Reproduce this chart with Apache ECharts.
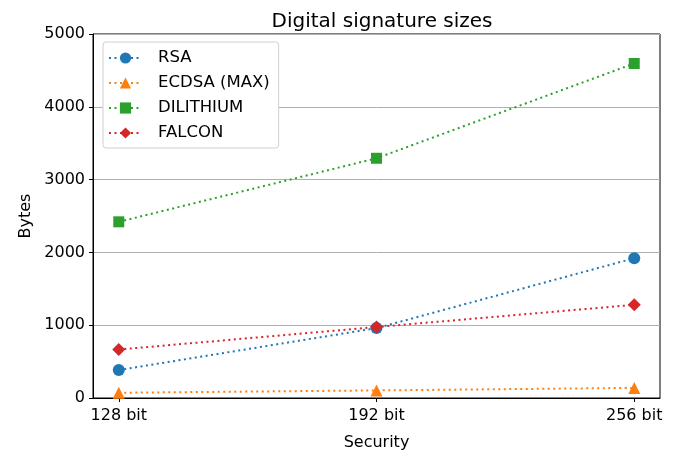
<!DOCTYPE html>
<html>
<head>
<meta charset="utf-8">
<script src="https://cdn.jsdelivr.net/npm/echarts@6/dist/echarts.min.js"></script>
<style>
html,body{margin:0;padding:0;background:#fff;}
#chart{width:678px;height:456px;}
</style>
</head>
<body>
<div id="chart"></div>
<script>
// categories on the x axis
var securityLevels = ['128 bit', '192 bit', '256 bit'];
// signature sizes in bytes
var rsaBytes = [384, 960, 1920];
var ecdsaBytes = [72, 104, 139];
var dilithiumBytes = [2420, 3293, 4595];
var falconBytes = [666, 975, 1280];

var fontFam = 'DejaVu Sans';

function toPoints(arr){
    return arr.map(function(v, i){ return [i, v]; });
}

function makeSeries(name, data, color, symbol, size){
    return {
        name: name,
        type: 'line',
        data: toPoints(data),
        symbol: symbol,
        symbolSize: size,
        showSymbol: true,
        itemStyle: {color: color},
        lineStyle: {color: color, width: 2, type: [2, 3.5]},
        emphasis: {disabled: true},
        animation: false
    };
}

var chart = echarts.init(document.getElementById('chart'), null, {renderer: 'canvas'});

var option = {
    backgroundColor: '#fff',
    animation: false,
    color: ['#1f77b4', '#ff7f0e', '#2ca02c', '#d62728'],
    title: {
        text: 'Digital signature sizes',
        left: 377,
        top: 7,
        textAlign: 'center',
        textStyle: {fontFamily: fontFam, fontSize: 20, fontWeight: 'normal', color: '#000'}
    },
    grid: {
        left: 93,
        right: 18,
        top: 34,
        bottom: 54,
        show: true,
        borderColor: '#000',
        borderWidth: 1,
        containLabel: false
    },
    legend: {
        left: 103,
        top: 42,
        orient: 'vertical',
        itemWidth: 33,
        itemHeight: 14,
        itemGap: 7,
        padding: [7, 9, 6, 5],
        backgroundColor: '#fff',
        borderColor: '#d0d0d0',
        borderWidth: 1,
        borderRadius: 3,
        textStyle: {fontFamily: fontFam, fontSize: 16.5, lineHeight: 18, color: '#000', padding: [0, 0, 0, 11]},
        data: ['RSA', 'ECDSA (MAX)', 'DILITHIUM', 'FALCON']
    },
    xAxis: {
        type: 'value',
        min: -0.1,
        max: 2.1,
        name: 'Security',
        nameLocation: 'middle',
        nameGap: 37,
        nameTextStyle: {fontFamily: fontFam, fontSize: 16, color: '#000'},
        axisLine: {show: true, onZero: false, lineStyle: {color: '#000'}},
        axisTick: {show: true, customValues: [0, 1, 2], length: 4, lineStyle: {color: '#000'}},
        axisLabel: {
            customValues: [0, 1, 2],
            margin: 10,
            fontFamily: fontFam,
            fontSize: 16,
            color: '#000',
            formatter: function(v){ return securityLevels[Math.round(v)]; }
        },
        splitLine: {show: false}
    },
    yAxis: {
        type: 'value',
        min: 0,
        max: 5000,
        interval: 1000,
        name: 'Bytes',
        nameLocation: 'middle',
        nameGap: 59,
        nameTextStyle: {fontFamily: fontFam, fontSize: 16, color: '#000'},
        axisLine: {show: true, onZero: false, lineStyle: {color: '#000'}},
        axisTick: {show: true, length: 4, lineStyle: {color: '#000'}},
        axisLabel: {
            margin: 8,
            fontFamily: fontFam,
            fontSize: 16,
            color: '#000',
            formatter: function(v){ return String(v); }
        },
        splitLine: {show: true, lineStyle: {color: '#b0b0b0', width: 1}}
    },
    series: [
        makeSeries('RSA', rsaBytes, '#1f77b4', 'circle', 12),
        makeSeries('ECDSA (MAX)', ecdsaBytes, '#ff7f0e', 'triangle', 12),
        makeSeries('DILITHIUM', dilithiumBytes, '#2ca02c', 'rect', 11),
        makeSeries('FALCON', falconBytes, '#d62728', 'diamond', 13)
    ]
};

chart.setOption(option);
</script>
</body>
</html>
